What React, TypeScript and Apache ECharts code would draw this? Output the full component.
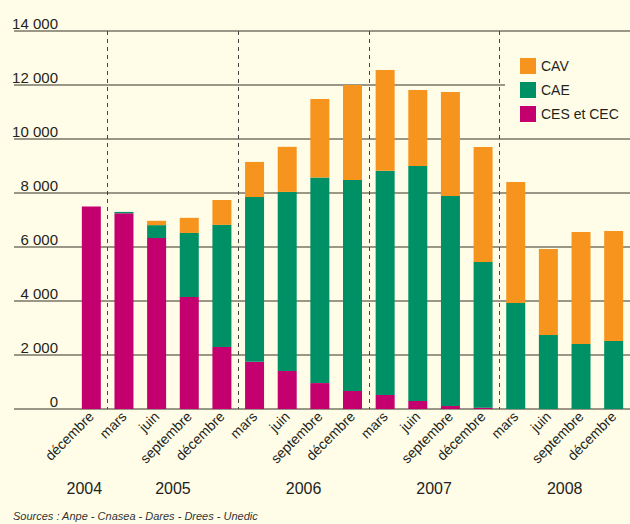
import React, { useEffect, useRef } from "react";
import * as echarts from "echarts";

const months = ["décembre", "mars", "juin", "septembre", "décembre", "mars", "juin", "septembre", "décembre", "mars", "juin", "septembre", "décembre", "mars", "juin", "septembre", "décembre"];
const years = ["2004", "2005", "2006", "2007", "2008"];
const yearOfMonth = [0, 1, 1, 1, 1, 2, 2, 2, 2, 3, 3, 3, 3, 4, 4, 4, 4];
const ces = [7500, 7250, 6330, 4150, 2300, 1750, 1410, 960, 670, 520, 300, 110, 50, 0, 0, 0, 0];
const cae = [0, 50, 480, 2370, 4520, 6100, 6630, 7610, 7810, 8300, 8700, 7780, 5390, 3930, 2740, 2410, 2520];
const cav = [0, 0, 160, 560, 920, 1300, 1670, 2910, 3520, 3740, 2815, 3850, 4260, 4480, 3190, 4150, 4070];
const yearBoundaries = [1, 5, 9, 13];

const BG = "#fffde8";
const FONT = "'Liberation Sans Narrow', 'Arial Narrow', 'Liberation Sans', Arial, sans-serif";
const TXT = "#231f20";

export default function App() {
  const ref = useRef<HTMLDivElement>(null);
  useEffect(() => {
    document.body.style.margin = "0";
    const chart = echarts.init(ref.current!, null, { renderer: "svg" });
    const option: any = {
      animation: false,
      backgroundColor: BG,
      textStyle: { fontFamily: FONT },
      grid: [
        { left: 14, right: 0, top: 31, bottom: 115 },
        { left: 75, width: 560, top: 31, bottom: 115 },
      ],
      xAxis: [
        { type: "value", gridIndex: 0, show: false, min: 0, max: 1 },
        {
          type: "category",
          gridIndex: 1,
          data: months,
          axisLine: { show: false },
          axisTick: { show: false },
          splitLine: {
            show: true,
            interval: (i: number) => yearBoundaries.includes(i),
            lineStyle: { color: "#444", type: [4, 4], width: 1 },
          },
          axisLabel: { rotate: 45, margin: 5, interval: 0, fontSize: 14, color: TXT, fontFamily: FONT },
        },
      ],
      yAxis: [
        {
          type: "value",
          gridIndex: 0,
          min: 0,
          max: 14000,
          interval: 2000,
          axisLine: { show: false },
          axisTick: { show: false },
          splitLine: { show: true, lineStyle: { color: "#7a7566", width: 1.6 } },
          axisLabel: {
            inside: true,
            align: "right",
            verticalAlign: "bottom",
            margin: 44,
            fontSize: 15,
            color: TXT,
            fontFamily: FONT,
            formatter: (v: number) => (v >= 1000 ? `${Math.floor(v / 1000)} ${String(v % 1000).padStart(3, "0")}` : `${v}`),
          },
        },
        { type: "value", gridIndex: 1, min: 0, max: 14000, show: false },
      ],
      legend: {
        orient: "vertical",
        left: 505,
        top: 40,
        padding: [18, 30, 12, 15],
        backgroundColor: BG,
        itemWidth: 16,
        itemHeight: 16,
        itemGap: 8,
        icon: "rect",
        data: ["CAV", "CAE", "CES et CEC"],
        textStyle: { fontSize: 14, color: TXT, fontFamily: FONT },
      },
      series: [
        { name: "CES et CEC", type: "bar", stack: "t", xAxisIndex: 1, yAxisIndex: 1, data: ces, barWidth: 19, itemStyle: { color: "#c4006e" } },
        { name: "CAE", type: "bar", stack: "t", xAxisIndex: 1, yAxisIndex: 1, data: cae, barWidth: 19, itemStyle: { color: "#009066" } },
        { name: "CAV", type: "bar", stack: "t", xAxisIndex: 1, yAxisIndex: 1, data: cav, barWidth: 19, itemStyle: { color: "#f7941e" } },
      ],
      graphic: [
        {
          type: "text",
          id: "source",
          left: 13,
          top: 510,
          style: { text: "Sources : Anpe - Cnasea - Dares - Drees - Unedic", fontSize: 11, fontStyle: "italic", fill: "#333", fontFamily: FONT },
        },
      ],
    };
    chart.setOption(option);

    // Year labels centred under each year's group of bars, positions from the category axis.
    const zeroY = chart.convertToPixel({ yAxisIndex: 1 }, 0) as number;
    const yearTexts = years.map((y, yi) => {
      const xs: number[] = [];
      yearOfMonth.forEach((m, i) => {
        if (m === yi) xs.push(chart.convertToPixel({ xAxisIndex: 1 }, i) as number);
      });
      const cx = xs.reduce((a, b) => a + b, 0) / xs.length - (xs.length === 1 ? 7 : 0);
      return {
        type: "text",
        id: "year" + yi,
        x: cx,
        y: zeroY + 79,
        style: { text: y, fontSize: 16, fill: TXT, fontFamily: FONT, align: "center", verticalAlign: "middle" },
      };
    });
    chart.setOption({ graphic: yearTexts });
    return () => chart.dispose();
  }, []);
  return <div ref={ref} style={{ width: 630, height: 524 }} />;
}
